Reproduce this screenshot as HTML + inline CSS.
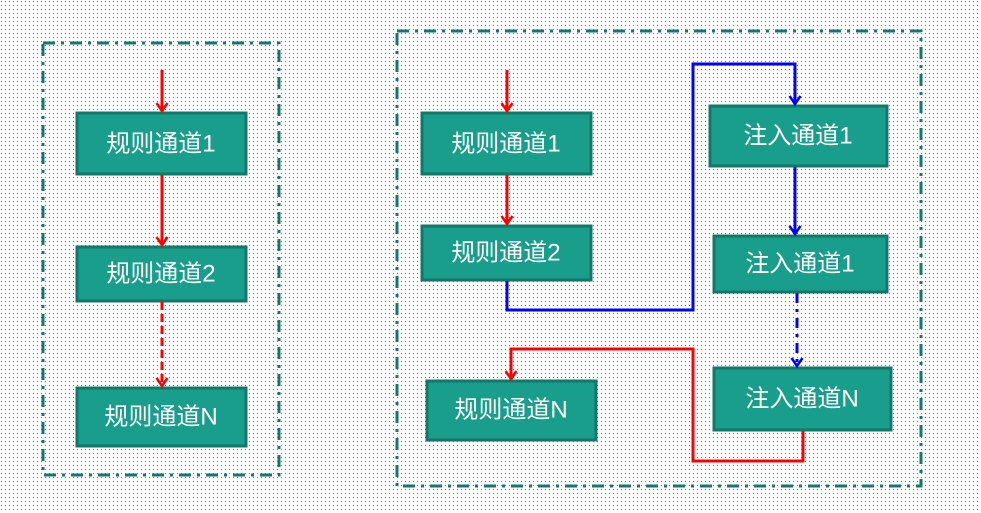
<!DOCTYPE html>
<html><head><meta charset="utf-8"><style>
html,body{margin:0;padding:0;width:981px;height:513px;overflow:hidden;background:#fff}
svg{display:block}
text{font-family:"Liberation Sans","Noto Sans CJK SC",sans-serif;font-size:24px;fill:#fff;text-anchor:middle;dominant-baseline:central}
</style></head><body>
<svg width="981" height="513" viewBox="0 0 981 513">
<defs>
<pattern id="dots" width="4" height="4" patternUnits="userSpaceOnUse"><rect x="1" y="1" width="1" height="1" fill="#159e88"/></pattern>
<marker id="ar" markerWidth="14" markerHeight="14" refX="11" refY="7" orient="auto" markerUnits="userSpaceOnUse"><path d="M3,1.5 L11,7 L3,12.5" fill="none" stroke="#f00" stroke-width="2.5"/></marker>
<marker id="ab" markerWidth="14" markerHeight="14" refX="11" refY="7" orient="auto" markerUnits="userSpaceOnUse"><path d="M3,1.5 L11,7 L3,12.5" fill="none" stroke="#00f" stroke-width="2.5"/></marker>
</defs>
<rect width="981" height="513" fill="url(#dots)"/>
<g fill="none" stroke="#13776a" stroke-width="3" stroke-dasharray="12,6,3,6">
<rect x="43" y="43" width="236" height="432"/>
<rect x="397" y="31" width="524" height="455"/>
</g>
<g fill="#1a9e8c" stroke="#13776a" stroke-width="3">
<rect x="77" y="113" width="169" height="61"/>
<rect x="77" y="247" width="169" height="54"/>
<rect x="77" y="388" width="169" height="58"/>
<rect x="422" y="113" width="169" height="61"/>
<rect x="422" y="226" width="169" height="54"/>
<rect x="427" y="381" width="169" height="59"/>
<rect x="710" y="106" width="177" height="60"/>
<rect x="714" y="236" width="173" height="56"/>
<rect x="714" y="368" width="177" height="62"/>
</g>
<text x="161" y="144">规则通道1</text>
<text x="161" y="274">规则通道2</text>
<text x="161" y="417">规则通道N</text>
<text x="506" y="144">规则通道1</text>
<text x="506" y="253">规则通道2</text>
<text x="511" y="410">规则通道N</text>
<text x="798" y="136">注入通道1</text>
<text x="800" y="264">注入通道1</text>
<text x="802" y="399">注入通道N</text>
<g stroke="#f00" stroke-width="3" fill="none">
<line x1="162" y1="70" x2="162" y2="111" marker-end="url(#ar)"/>
<line x1="162" y1="175" x2="162" y2="245" marker-end="url(#ar)"/>
<line x1="162" y1="302" x2="162" y2="386" stroke-dasharray="8,4" marker-end="url(#ar)"/>
<line x1="507" y1="70" x2="507" y2="111" marker-end="url(#ar)"/>
<line x1="507" y1="175" x2="507" y2="224" marker-end="url(#ar)"/>
<polyline points="803,431 803,461 693,461 693,349 511,349 511,379" marker-end="url(#ar)"/>
</g>
<g stroke="#00f" stroke-width="3" fill="none">
<polyline points="507,281 507,310 693,310 693,64 795,64 795,104" marker-end="url(#ab)"/>
<line x1="795" y1="167" x2="795" y2="234" marker-end="url(#ab)"/>
<line x1="797" y1="293" x2="797" y2="366" stroke-dasharray="10,6,3,6" marker-end="url(#ab)"/>
</g>
</svg>
</body></html>
